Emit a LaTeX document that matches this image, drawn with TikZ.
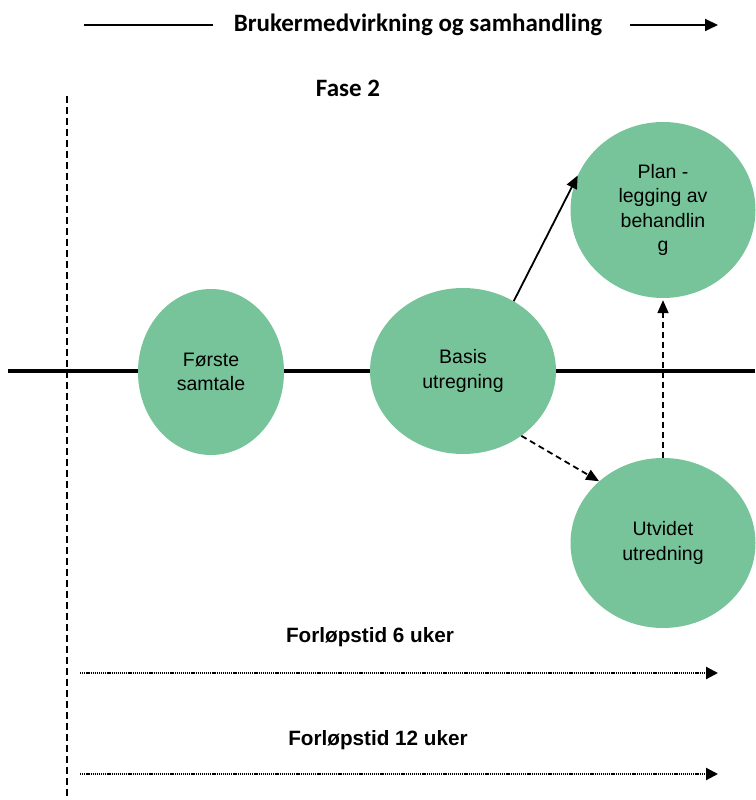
\documentclass[tikz,border=0pt]{standalone}
\usepackage{fontspec}
\setmainfont{Liberation Sans}
\newfontfamily\headfont{Carlito}
\usetikzlibrary{shapes.geometric,arrows.meta}
\definecolor{bubble}{HTML}{78C49A}
\begin{document}
\begin{tikzpicture}[x=1pt,y=1pt,
  bubble/.style={ellipse,fill=bubble,draw=none,inner sep=0pt,align=center,
    font=\fontsize{19.5}{24.5}\selectfont},
  headtxt/.style={font=\headfont\bfseries\fontsize{25}{26}\selectfont},
  subtxt/.style={font=\bfseries\fontsize{20.7}{22}\selectfont},
  tip/.style={-{Triangle[length=13pt,width=11pt]}},
  link/.style={line width=1.8pt,tip},
  dotline/.style={line width=2.2pt,dash pattern=on 1.2pt off 0.9pt,-{Triangle[length=12pt,width=12pt]}}
]
\useasboundingbox (0,0) rectangle (755,800);
% top arrow
\coordinate (t1) at (84,775);
\coordinate (t2) at (213,775);
\coordinate (t3) at (630,775);
\coordinate (t4) at (718,775);
\node[headtxt] (title) at (418,775) {Brukermedvirkning og samhandling};
\draw[line width=1.8pt] (t1) -- (t2);
\draw[line width=1.8pt,-{Triangle[length=13pt,width=12pt]}] (t3) -- (t4);
\node[headtxt] (fase) at (348,712) {Fase 2};
% vertical dashed line
\coordinate (v1) at (67,704);
\coordinate (v2) at (67,0);
\draw[line width=1.6pt,dash pattern=on 7pt off 4pt] (v1) -- (v2);
% horizontal main line
\coordinate (h1) at (8,429);
\coordinate (h2) at (755,429);
\draw[line width=3.5pt] (h1) -- (h2);
% bubbles
\node[bubble,minimum width=146,minimum height=166] (forste) at (211,428) {Første\\samtale};
\node[bubble,minimum width=186,minimum height=166] (basis) at (463,429) {Basis\\utregning};
\node[bubble,minimum width=185,minimum height=176] (plan) at (663,590) {Plan -\\legging av\\behandlin\\g};
\node[bubble,minimum width=185,minimum height=170] (utvidet) at (663,257) {Utvidet\\utredning};
% connectors
\draw[link] (basis.54) -- (plan.158);
\draw[link,dash pattern=on 6pt off 4pt] (basis.-48) -- (utvidet.136);
\draw[link,dash pattern=on 6pt off 4pt] (utvidet.north) -- ([yshift=-2pt]plan.south);
% bottom timelines
\node[subtxt] (f6) at (370,163) {Forløpstid 6 uker};
\coordinate (d1) at (80,127);
\coordinate (d2) at (718,127);
\draw[dotline] (d1) -- (d2);
\node[subtxt] (f12) at (378,60) {Forløpstid 12 uker};
\coordinate (e1) at (80,26);
\coordinate (e2) at (718,26);
\draw[dotline] (e1) -- (e2);
\end{tikzpicture}
\end{document}
